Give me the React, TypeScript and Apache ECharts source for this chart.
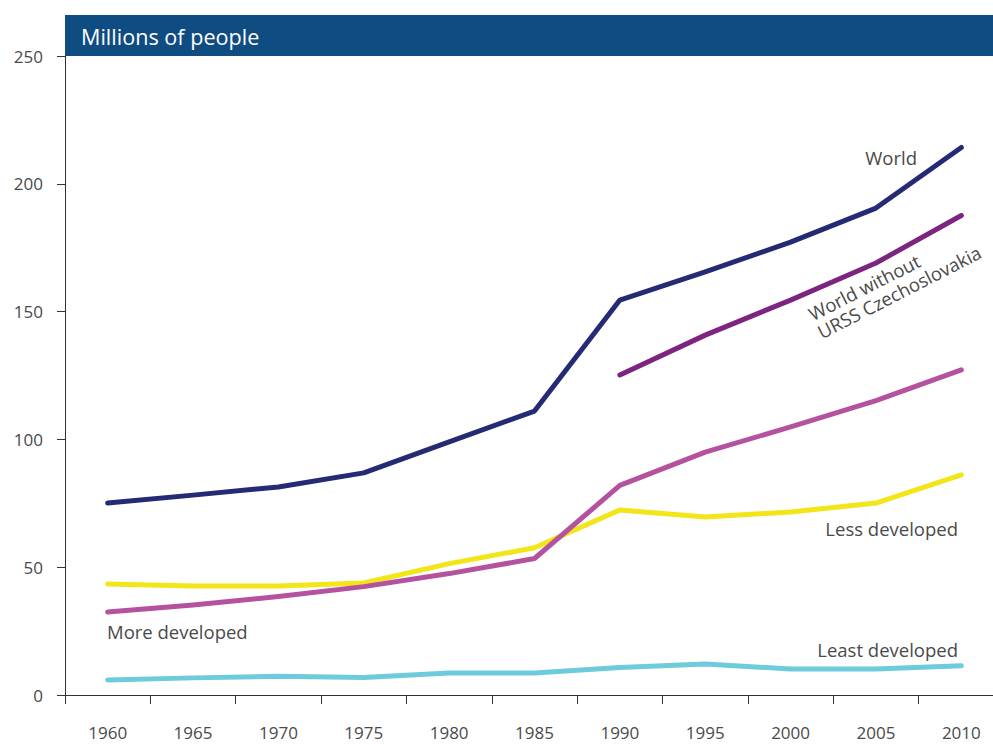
import React, { useEffect, useRef } from "react";
import * as echarts from "echarts";

const years = ["1960", "1965", "1970", "1975", "1980", "1985", "1990", "1995", "2000", "2005", "2010"];
const world = [75.1, 78.2, 81.4, 86.9, 99.0, 111.1, 154.5, 165.5, 177.2, 190.5, 214.2];
const worldWithoutUrss = [null, null, null, null, null, null, 125.2, 140.8, 154.5, 169.0, 187.6];
const moreDeveloped = [32.5, 35.2, 38.5, 42.4, 47.5, 53.4, 82.0, 95.0, 104.9, 115.2, 127.2];
const lessDeveloped = [43.4, 42.6, 42.6, 43.8, 51.4, 57.6, 72.4, 69.6, 71.6, 75.1, 86.1];
const leastDeveloped = [5.9, 6.7, 7.3, 6.8, 8.6, 8.6, 10.8, 12.1, 10.2, 10.2, 11.4];
const yTicks = [0, 50, 100, 150, 200, 250];

const FONT = "'Open Sans', 'Noto Sans', sans-serif";
const TXT = "#4a4a4a";
const ANN = 18.5;

export default function App() {
  const ref = useRef<HTMLDivElement>(null);
  useEffect(() => {
    if (!ref.current) return;
    document.documentElement.style.overflow = "hidden";
    document.body.style.overflow = "hidden";
    document.body.style.margin = "0";
    const chart = echarts.init(ref.current, null, { renderer: "svg" });
    const lineSeries = (name: string, data: (number | null)[], color: string) => ({
      name,
      type: "line",
      data,
      symbol: "none",
      connectNulls: false,
      lineStyle: { color, width: 5, cap: "round", join: "round" },
      itemStyle: { color },
      z: 3,
    });
    chart.setOption({
      animation: false,
      backgroundColor: "#ffffff",
      grid: { left: 65, top: 56, right: 0, bottom: 50, containLabel: false },
      xAxis: {
        type: "category",
        data: years,
        boundaryGap: true,
        axisLine: { show: true, lineStyle: { color: "#333", width: 1 } },
        axisTick: { show: true, length: 9, alignWithLabel: false, lineStyle: { color: "#333" } },
        axisLabel: { margin: 29, fontSize: 17, color: TXT, fontFamily: FONT },
        splitLine: { show: false },
      },
      yAxis: {
        type: "value",
        min: yTicks[0],
        max: yTicks[yTicks.length - 1],
        interval: 50,
        axisLine: { show: true, lineStyle: { color: "#333", width: 1 } },
        axisTick: { show: true, length: 8, lineStyle: { color: "#333" } },
        axisLabel: { margin: 22, fontSize: 17, color: TXT, fontFamily: FONT },
        splitLine: { show: false },
      },
      series: [
        lineSeries("Least developed", leastDeveloped, "#6dcbdb"),
        lineSeries("Less developed", lessDeveloped, "#f2e518"),
        lineSeries("More developed", moreDeveloped, "#b5529f"),
        lineSeries("World without URSS Czechoslovakia", worldWithoutUrss, "#7d2380"),
        lineSeries("World", world, "#252a74"),
      ],
      graphic: [
        { type: "rect", shape: { x: 65, y: 15, width: 940, height: 41 }, style: { fill: "#0f4c81" }, z: 10 },
        {
          type: "text", x: 81, y: 36, z: 11,
          style: { text: "Millions of people", fill: "#ffffff", fontSize: 21.6, fontFamily: FONT, verticalAlign: "middle", align: "left" },
        },
        {
          type: "text", x: 917, y: 157, z: 11,
          style: { text: "World", fill: TXT, fontSize: ANN, fontFamily: FONT, align: "right", verticalAlign: "middle" },
        },
        {
          type: "text", x: 958, y: 528, z: 11,
          style: { text: "Less developed", fill: TXT, fontSize: ANN, fontFamily: FONT, align: "right", verticalAlign: "middle" },
        },
        {
          type: "text", x: 958, y: 649, z: 11,
          style: { text: "Least developed", fill: TXT, fontSize: ANN, fontFamily: FONT, align: "right", verticalAlign: "middle" },
        },
        {
          type: "text", x: 107, y: 631, z: 11,
          style: { text: "More developed", fill: TXT, fontSize: ANN, fontFamily: FONT, align: "left", verticalAlign: "middle" },
        },
        {
          type: "text", x: 805, y: 306, z: 11, rotation: (27 * Math.PI) / 180,
          style: {
            text: "World without\nURSS Czechoslovakia", fill: TXT, fontSize: ANN, lineHeight: 20,
            fontFamily: FONT, align: "left", verticalAlign: "top",
          },
        },
      ],
    });
    return () => chart.dispose();
  }, []);
  return <div ref={ref} style={{ position: "fixed", left: 0, top: 0, width: 1004, height: 745 }} />;
}
